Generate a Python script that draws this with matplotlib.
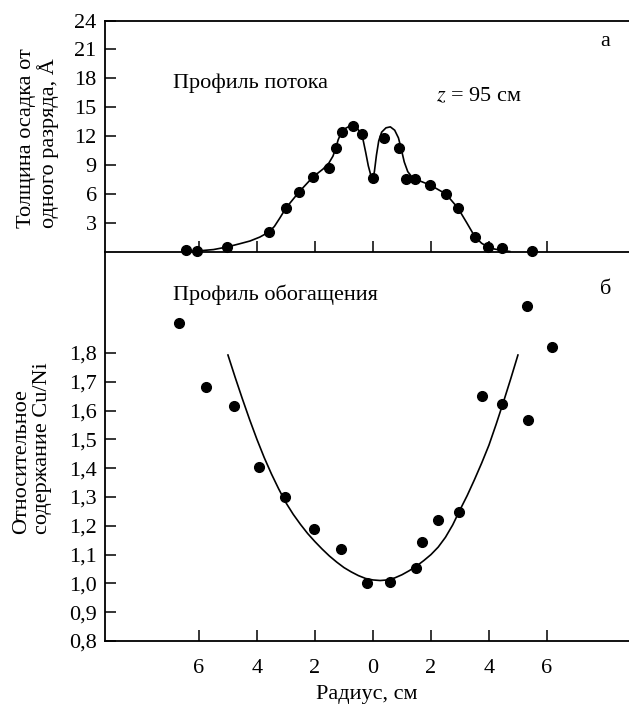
import matplotlib.pyplot as plt

plt.rcParams["font.family"] = ["Liberation Serif", "DejaVu Serif"]
plt.rcParams["mathtext.fontset"] = "stix"

# --- panel a: flux profile (deposit thickness per discharge, Å) ---
flux_r = [-6.45, -6.07, -5.03, -3.59, -3.0, -2.55, -2.07, -1.52, -1.28, -1.07,
          -0.69, -0.38, 0.0, 0.38, 0.90, 1.14, 1.45, 1.97, 2.52, 2.93,
          3.52, 3.97, 4.45, 5.48]
flux_h = [0.15, 0.05, 0.45, 2.0, 4.5, 6.2, 7.7, 8.7, 10.75, 12.4,
          13.0, 12.2, 7.6, 11.75, 10.75, 7.5, 7.5, 6.9, 6.0, 4.5,
          1.5, 0.45, 0.35, 0.05]
flux_fit_r = [-6.07, -5.5, -5.03, -4.6, -4.24, -3.9, -3.59, -3.4, -3.21, -3.0,
              -2.55, -2.07, -1.72, -1.52, -1.38, -1.28, -1.2, -1.1, -1.0, -0.85,
              -0.69, -0.55, -0.45, -0.34, -0.25, -0.16, -0.08, 0.0, 0.05, 0.12,
              0.2, 0.3, 0.45, 0.6, 0.75, 0.88, 0.98, 1.08, 1.2, 1.33,
              1.45, 1.97, 2.52, 2.93, 3.24, 3.52, 3.75, 3.97, 4.2, 4.45, 4.72]
flux_fit_h = [0.05, 0.2, 0.47, 0.8, 1.09, 1.5, 2.02, 2.6, 3.48, 4.52,
              6.18, 7.74, 8.57, 9.19, 9.9, 10.75, 11.6, 12.3, 12.7, 12.95,
              13.0, 12.85, 12.4, 11.6, 10.3, 8.9, 8.0, 7.63, 8.3, 10.0,
              11.5, 12.4, 12.85, 12.95, 12.6, 11.8, 10.6, 9.3, 8.3, 7.8,
              7.53, 6.91, 5.97, 4.52, 2.96, 1.51, 0.85, 0.47, 0.25, 0.12, 0.0]

# --- panel b: enrichment profile (relative Cu/Ni content) ---
enr_r = [-6.69, -5.76, -4.79, -3.93, -3.03, -2.03, -1.10, -0.21, 0.59, 1.48,
         1.69, 2.24, 2.97, 3.76, 4.45, 5.31, 5.34, 6.17]
enr_v = [1.904, 1.682, 1.616, 1.404, 1.300, 1.189, 1.119, 1.001, 1.005, 1.053,
         1.144, 1.220, 1.248, 1.651, 1.623, 1.963, 1.567, 1.821]
enr_fit_r = [-5.0, -4.75, -4.5, -4.25, -4.0, -3.75, -3.5, -3.25, -3.0, -2.75,
             -2.5, -2.25, -2.0, -1.75, -1.5, -1.25, -1.0, -0.75, -0.5, -0.25,
             0.0, 0.25, 0.5, 0.75, 1.0, 1.25, 1.5, 1.75, 2.0, 2.25,
             2.5, 2.75, 3.0, 3.25, 3.5, 3.75, 4.0, 4.25, 4.5, 4.75, 5.0]
enr_fit_v = [1.793, 1.715, 1.640, 1.568, 1.500, 1.437, 1.380, 1.328, 1.280, 1.240,
             1.205, 1.173, 1.145, 1.119, 1.095, 1.074, 1.055, 1.040, 1.027, 1.017,
             1.012, 1.010, 1.012, 1.019, 1.030, 1.044, 1.060, 1.079, 1.100, 1.126,
             1.160, 1.203, 1.255, 1.305, 1.360, 1.418, 1.480, 1.553, 1.630, 1.710, 1.793]

flux_yticks = [3, 6, 9, 12, 15, 18, 21, 24]
enr_yticks = [0.8, 0.9, 1.0, 1.1, 1.2, 1.3, 1.4, 1.5, 1.6, 1.7, 1.8]
r_ticks = [-6, -4, -2, 0, 2, 4, 6]
r_ticklabels = ["6", "4", "2", "0", "2", "4", "6"]

W, H = 629, 706
FS = 16
fig = plt.figure(figsize=(W / 100, H / 100), dpi=100)
ax_top = fig.add_axes([105 / W, 1 - 251.5 / H, 524 / W, 231 / H], zorder=3)
ax_bot = fig.add_axes([105 / W, 1 - 641 / H, 524 / W, 389.5 / H], zorder=2)
ax_top.patch.set_visible(False)
ax_bot.patch.set_visible(False)

xlim = (-9.24, 8.83)

# top panel
ax_top.plot(flux_fit_r, flux_fit_h, color="black", lw=1.2, clip_on=False)
ax_top.plot(flux_r, flux_h, "o", color="black", ms=7, clip_on=False)
ax_top.set_xlim(*xlim)
ax_top.set_ylim(0, 24)
ax_top.set_yticks(flux_yticks)
ax_top.set_yticklabels([str(v) for v in flux_yticks])
ax_top.set_xticks(r_ticks)
ax_top.set_xticklabels([])
ax_top.spines["right"].set_visible(False)

# bottom panel
ax_bot.plot(enr_fit_r, enr_fit_v, color="black", lw=1.2)
ax_bot.plot(enr_r, enr_v, "o", color="black", ms=7, clip_on=False)
ax_bot.set_xlim(*xlim)
ax_bot.set_ylim(0.8, 0.8 + 389.5 / 288)
ax_bot.set_yticks(enr_yticks)
ax_bot.set_yticklabels([f"{v:.1f}".replace(".", ",") for v in enr_yticks])
ax_bot.set_xticks(r_ticks)
ax_bot.set_xticklabels(r_ticklabels)
ax_bot.set_xlabel("Радиус, см", fontsize=FS, labelpad=5)
ax_bot.spines["right"].set_visible(False)
ax_bot.spines["top"].set_visible(False)

for ax in (ax_top, ax_bot):
    for s in ax.spines.values():
        s.set_linewidth(1.3)
    ax.tick_params(direction="in", length=8, width=1.1, labelsize=FS)
    ax.tick_params(axis="y", pad=6)
    ax.tick_params(axis="x", pad=13)

# axis titles (two lines, aligned at start)
fig.text(38 / W, 1 - 138 / H, "Толщина осадка от\nодного разряда, Å",
         rotation=90, ha="center", va="center", multialignment="left",
         fontsize=FS, linespacing=1.1)
fig.text(32 / W, 1 - 448 / H, "Относительное\nсодержание Cu/Ni",
         rotation=90, ha="center", va="center", multialignment="left",
         fontsize=FS, linespacing=1.1)

# annotations
fig.text(173 / W, 1 - 83 / H, "Профиль потока", ha="left", va="center", fontsize=FS)
fig.text(436 / W, 1 - 97 / H, "$z$ = 95 см", ha="left", va="center", fontsize=FS)
fig.text(605 / W, 1 - 42 / H, "а", ha="center", va="center", fontsize=FS)
fig.text(173 / W, 1 - 295 / H, "Профиль обогащения", ha="left", va="center", fontsize=FS)
fig.text(606 / W, 1 - 290 / H, "б", ha="center", va="center", fontsize=FS)

fig.savefig("out.png", dpi=100)
